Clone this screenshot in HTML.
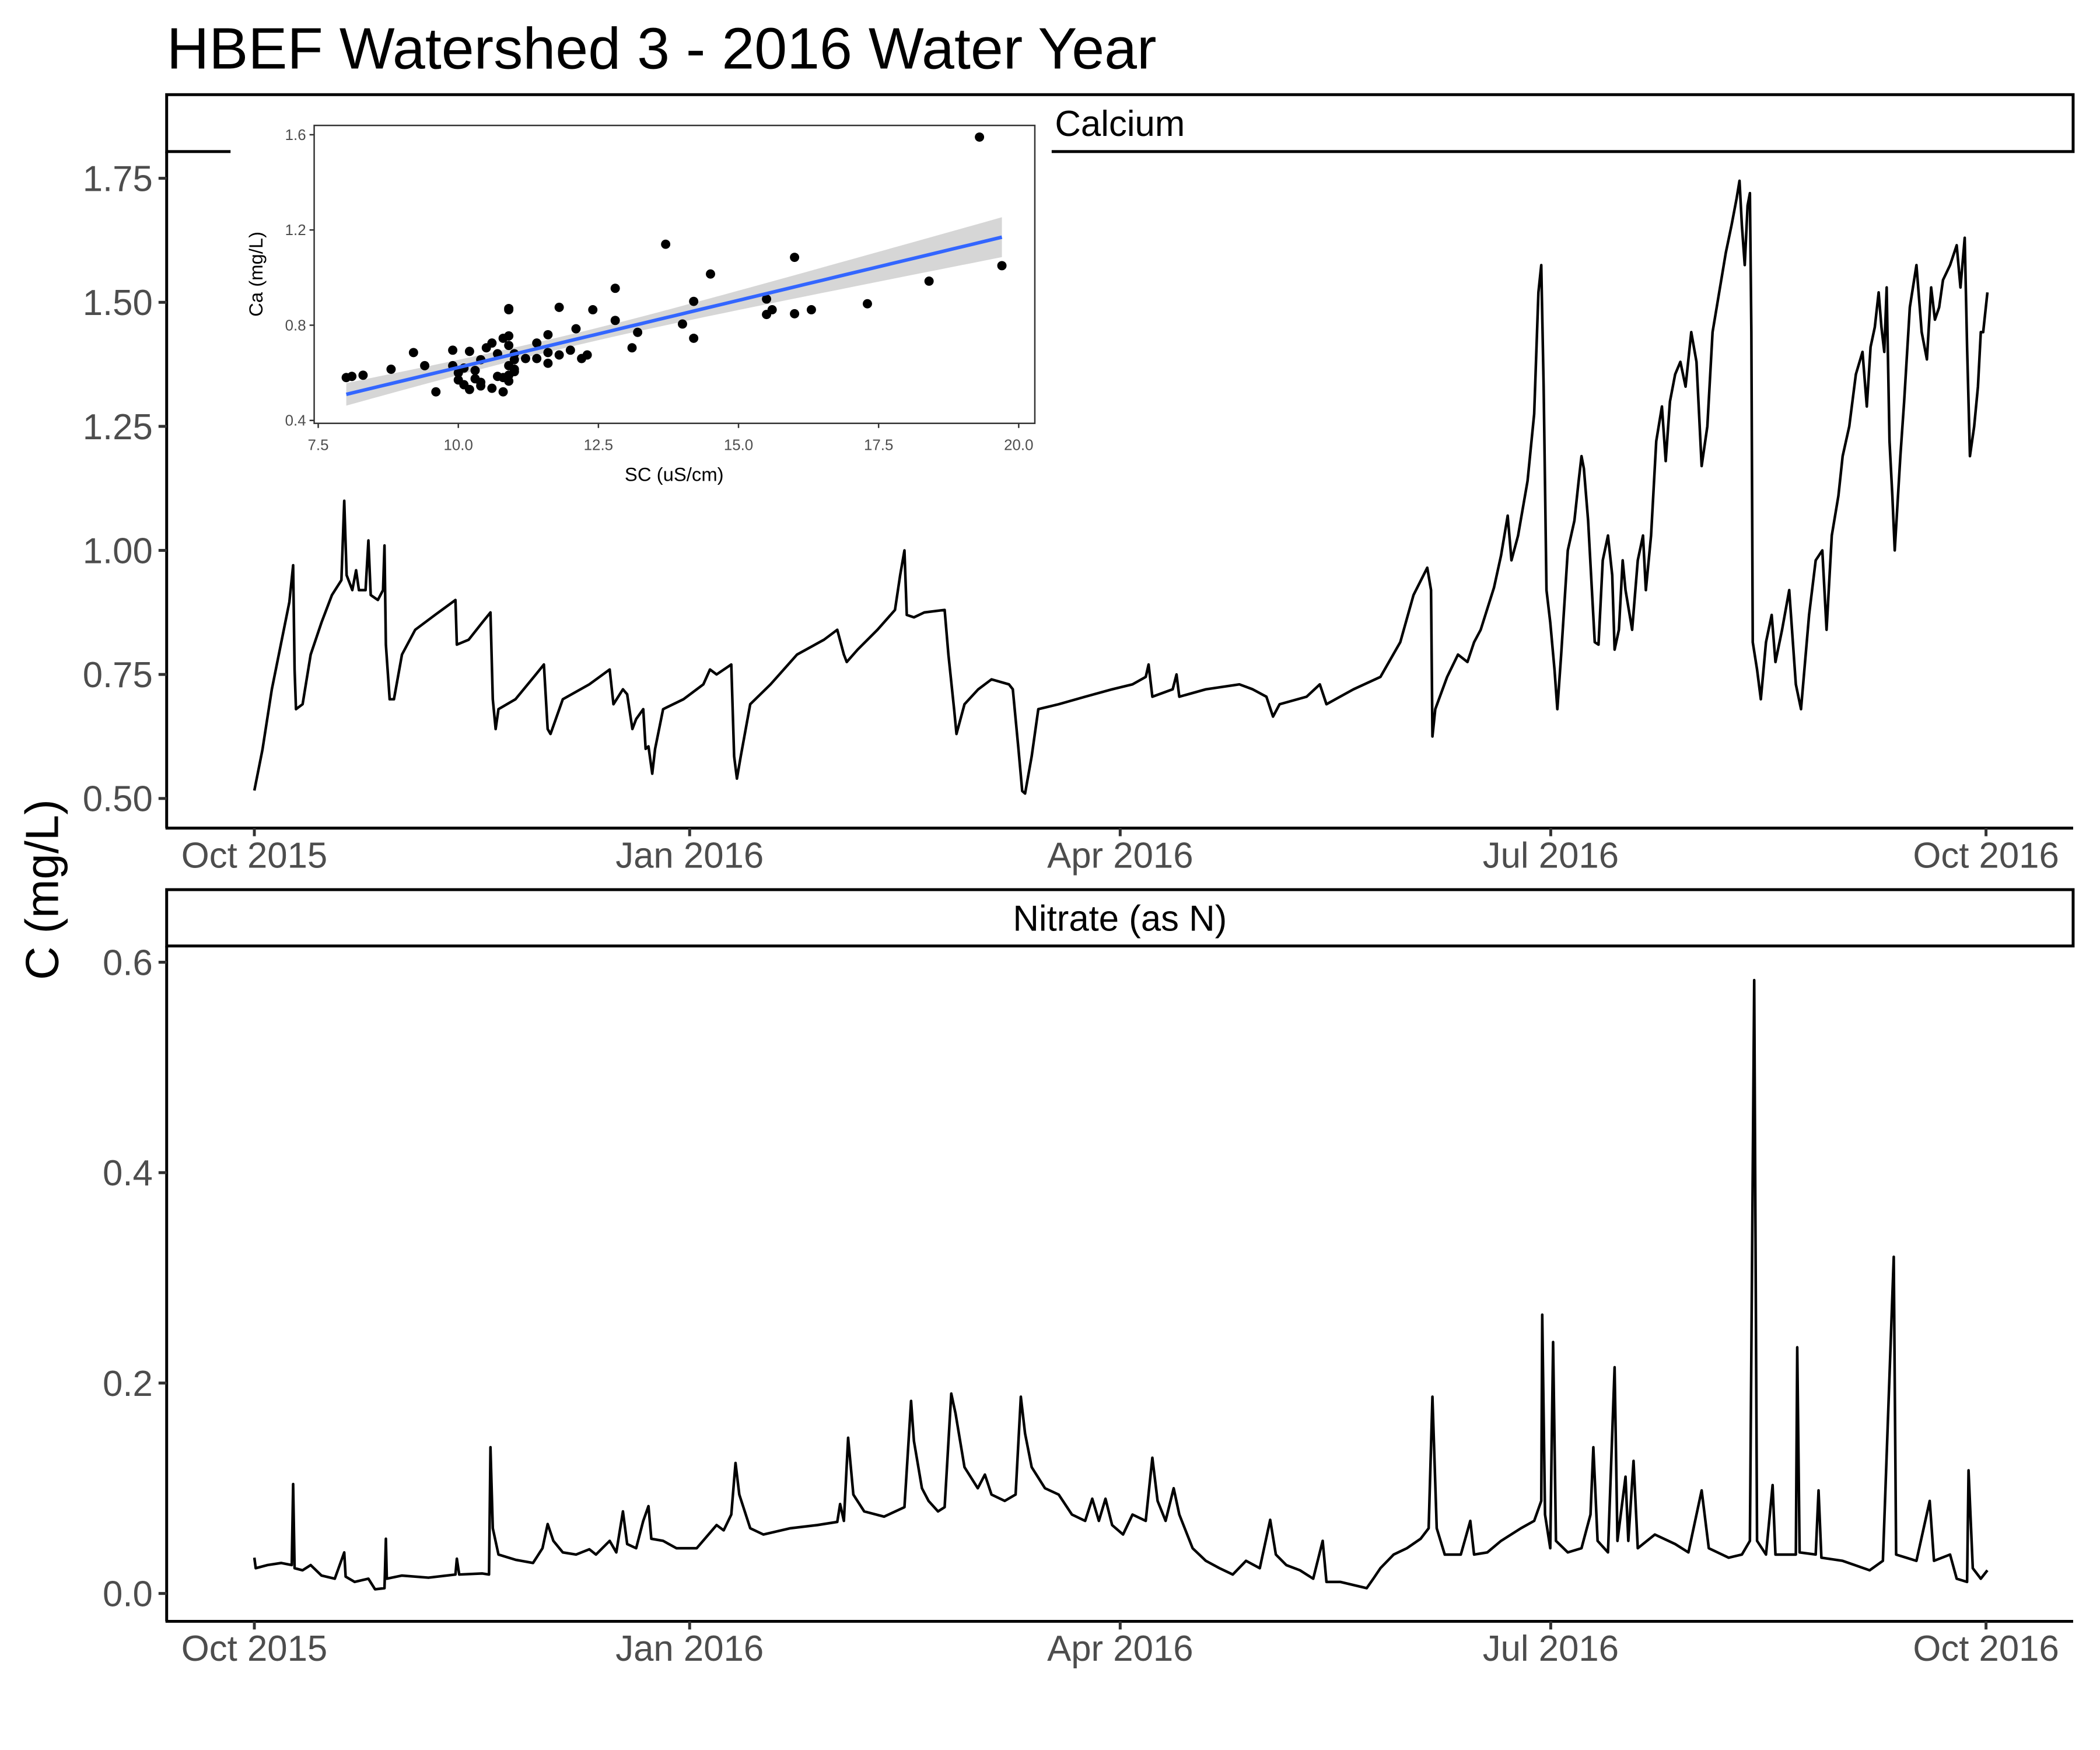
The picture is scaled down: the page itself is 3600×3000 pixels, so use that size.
<!DOCTYPE html>
<html><head><meta charset="utf-8"><style>
html,body{margin:0;padding:0;background:#fff}
svg{display:block;font-family:"Liberation Sans",Arial,sans-serif}
</style></head><body>
<svg id="chart" width="3600" height="3000" viewBox="0 0 3600 3000" xmlns="http://www.w3.org/2000/svg">
<rect x="0" y="0" width="3600" height="3000" fill="#fff"/>
<g transform="scale(0.9955)">
<text x="287" y="118" font-size="101" fill="#000">HBEF Watershed 3 - 2016 Water Year</text>
<text transform="translate(100,1532) rotate(-90)" text-anchor="middle" font-size="80" fill="#000">C (mg/L)</text>
<g id="p1"></g>
<g id="p2"></g>
<g id="inset"></g>
</g>
</svg>
<script>
// ---- data (day offset from 2015-10-01) ----
const xTickLabels = ["Oct 2015","Jan 2016","Apr 2016","Jul 2016","Oct 2016"];
const xTickDays = [0, 92, 183, 274, 366];
const caTicks = [0.50, 0.75, 1.00, 1.25, 1.50, 1.75];
const caTickLabels = ["0.50","0.75","1.00","1.25","1.50","1.75"];
const nTicks = [0.0, 0.2, 0.4, 0.6];
const nTickLabels = ["0.0","0.2","0.4","0.6"];
const caDays = [0,1.7,3.7,5.7,7.4,8.2,8.5,8.8,10.2,11.9,14.2,16.4,18.4,19.0,19.5,20.7,21.5,22.1,23.5,24.1,24.6,26.1,27.2,27.5,27.8,28.6,29.5,31.2,34.0,38.2,42.5,42.8,45.3,48.2,49.9,50.4,51.0,51.6,55.2,59.5,61.2,62.0,62.6,65.2,70.8,75.1,75.9,77.9,78.8,79.9,80.7,82.2,82.7,83.3,84.1,84.7,86.4,90.7,94.9,96.3,97.7,100.8,101.4,102.0,102.8,104.8,109.1,114.7,120.4,123.2,124.6,125.2,127.5,131.7,135.4,136.5,137.4,137.9,139.4,141.6,145.9,146.7,147.9,148.4,150.1,153.0,155.8,159.5,160.3,161.5,162.3,162.9,164.3,165.7,170.0,175.6,181.3,185.6,188.4,189.0,189.8,194.1,194.9,195.5,201.1,208.2,211.0,213.9,215.3,216.7,222.4,225.2,226.6,232.3,238.0,242.2,245.0,247.9,248.7,249.0,249.6,252.1,254.4,256.4,257.8,259.2,262.0,263.5,264.9,265.7,267.1,269.1,270.5,271.4,272.0,272.5,273.1,273.9,274.8,275.4,276.2,277.6,279.0,279.9,280.5,281.0,281.9,282.7,283.3,284.1,285.0,286.1,287.0,287.5,288.4,289.2,289.8,291.2,292.4,293.5,294.1,295.2,296.3,297.5,298.3,299.2,300.3,301.4,302.5,303.7,304.8,305.9,307.1,308.2,309.6,311.0,312.2,313.3,313.9,314.4,315.0,315.6,316.1,316.4,316.7,317.6,318.4,319.5,320.7,321.5,322.9,324.4,325.8,326.9,328.6,330.0,331.4,332.3,333.4,334.8,335.7,337.1,338.5,339.9,340.8,341.6,342.5,343.3,343.9,344.5,345.0,345.6,346.2,346.7,347.9,348.7,349.9,351.3,352.4,353.5,354.4,355.2,356.1,356.9,358.4,359.8,360.6,361.5,362.0,362.6,363.5,364.3,364.9,365.4,366.3];
const caValues = [0.516,0.598,0.72,0.815,0.896,0.97,0.76,0.68,0.69,0.79,0.855,0.91,0.94,1.10,0.95,0.92,0.96,0.92,0.92,1.02,0.91,0.90,0.92,1.01,0.81,0.70,0.70,0.79,0.84,0.87,0.90,0.81,0.82,0.855,0.875,0.70,0.64,0.68,0.70,0.75,0.77,0.64,0.63,0.70,0.73,0.76,0.69,0.72,0.71,0.64,0.66,0.68,0.60,0.605,0.55,0.60,0.68,0.70,0.73,0.76,0.75,0.77,0.585,0.54,0.585,0.69,0.73,0.79,0.82,0.84,0.79,0.775,0.80,0.84,0.88,0.95,1.00,0.87,0.865,0.875,0.88,0.79,0.68,0.63,0.69,0.72,0.74,0.73,0.72,0.60,0.515,0.51,0.585,0.68,0.69,0.705,0.72,0.73,0.745,0.77,0.705,0.72,0.75,0.705,0.72,0.73,0.72,0.705,0.665,0.69,0.705,0.73,0.69,0.72,0.745,0.815,0.91,0.965,0.92,0.625,0.68,0.745,0.79,0.775,0.815,0.84,0.925,0.99,1.07,0.98,1.03,1.14,1.275,1.52,1.575,1.33,0.92,0.855,0.76,0.68,0.79,1.00,1.06,1.14,1.19,1.165,1.06,0.92,0.815,0.81,0.98,1.03,0.95,0.80,0.84,0.98,0.92,0.84,0.98,1.03,0.92,1.03,1.22,1.29,1.18,1.30,1.355,1.38,1.33,1.44,1.38,1.17,1.25,1.44,1.52,1.60,1.655,1.71,1.745,1.655,1.575,1.695,1.72,1.44,0.815,0.76,0.70,0.815,0.87,0.775,0.84,0.92,0.73,0.68,0.87,0.98,1.00,0.84,1.03,1.11,1.19,1.25,1.355,1.40,1.29,1.41,1.45,1.52,1.45,1.40,1.53,1.22,1.11,1.00,1.19,1.30,1.49,1.575,1.44,1.385,1.53,1.465,1.49,1.545,1.575,1.615,1.53,1.63,1.41,1.19,1.25,1.33,1.44,1.44,1.52];
const nDays = [0,0.3,2.8,5.7,7.9,8.2,8.5,10.2,11.9,14.2,17.0,19.0,19.3,21.2,24.1,25.5,27.5,27.8,28.0,31.2,36.8,42.5,42.8,43.3,48.2,49.6,49.9,50.4,51.6,55.2,58.9,60.9,62.0,63.2,65.2,68.0,70.8,72.2,75.1,76.5,77.9,78.8,80.7,82.2,83.3,83.9,86.4,89.2,93.5,97.7,99.2,100.8,101.7,102.5,104.8,107.6,113.3,119.0,123.2,123.8,124.6,125.5,126.6,128.9,133.1,137.4,138.8,139.4,141.1,142.5,144.5,145.9,147.3,148.2,150.1,152.9,154.4,155.8,158.6,160.9,162.0,162.9,164.3,167.1,170.0,172.8,175.6,177.1,178.5,179.9,181.3,183.6,185.6,188.4,189.8,190.9,192.6,194.3,195.5,198.3,201.1,204.0,206.8,209.6,212.5,214.7,215.9,218.1,221.0,223.8,225.8,226.6,229.5,232.3,235.1,236.5,238.0,240.8,243.6,246.5,248.2,249.0,249.9,251.6,255.0,257.0,257.8,260.6,263.5,267.7,270.5,272.0,272.2,272.8,273.9,274.5,275.1,277.6,280.5,282.4,283.0,283.9,286.1,287.5,288.1,289.8,290.4,291.5,292.4,296.0,300.3,303.1,305.9,307.4,311.6,314.4,316.1,317.0,317.6,319.5,320.9,321.5,325.8,326.1,326.6,330.0,330.6,331.2,335.7,341.4,344.2,346.5,347.0,351.3,354.1,355.0,358.4,359.8,362.0,362.3,363.2,364.9,366.3];
const nValues = [0.034,0.024,0.027,0.029,0.027,0.104,0.024,0.022,0.027,0.017,0.014,0.039,0.016,0.011,0.014,0.004,0.005,0.052,0.014,0.017,0.015,0.018,0.033,0.018,0.019,0.018,0.139,0.062,0.037,0.032,0.029,0.043,0.066,0.05,0.039,0.037,0.042,0.037,0.05,0.039,0.078,0.047,0.043,0.069,0.083,0.052,0.05,0.043,0.043,0.065,0.06,0.075,0.124,0.094,0.062,0.056,0.062,0.065,0.068,0.085,0.069,0.148,0.094,0.078,0.073,0.082,0.183,0.145,0.10,0.088,0.078,0.082,0.19,0.171,0.12,0.10,0.113,0.094,0.088,0.094,0.187,0.152,0.12,0.10,0.094,0.075,0.069,0.09,0.069,0.09,0.065,0.056,0.075,0.069,0.129,0.088,0.069,0.10,0.075,0.043,0.031,0.024,0.018,0.031,0.024,0.07,0.037,0.027,0.022,0.014,0.05,0.011,0.011,0.008,0.005,0.014,0.024,0.037,0.043,0.052,0.062,0.187,0.062,0.037,0.037,0.069,0.037,0.039,0.05,0.062,0.069,0.088,0.265,0.075,0.043,0.239,0.05,0.039,0.043,0.075,0.139,0.05,0.039,0.215,0.05,0.111,0.05,0.126,0.043,0.056,0.047,0.039,0.098,0.043,0.034,0.037,0.05,0.583,0.05,0.037,0.103,0.037,0.037,0.234,0.039,0.037,0.098,0.034,0.031,0.022,0.031,0.32,0.037,0.031,0.088,0.031,0.037,0.014,0.011,0.117,0.024,0.014,0.022];
// inset scatter: SC (uS/cm) vs Ca (mg/L)
const scValues = [19.3,13.7,16.0,19.7,14.5,18.4,12.8,14.2,15.5,17.3,10.9,10.9,11.8,12.4,15.6,16.3,15.5,16.0,12.8,14.0,12.1,13.2,11.6,10.9,14.2,10.8,10.6,11.4,10.9,13.1,10.5,9.9,10.2,9.2,12.0,10.7,11.6,11.8,12.3,11.0,12.2,11.2,11.4,10.4,11.0,11.6,9.4,9.9,10.9,11.0,8.8,10.1,10.3,10.0,11.0,8.3,8.1,8.0,10.7,10.9,10.0,10.3,10.8,10.9,10.4,10.1,10.4,10.6,10.2,9.6,10.8];
const caScatter = [1.59,1.14,1.085,1.05,1.015,0.985,0.955,0.90,0.91,0.89,0.87,0.865,0.875,0.865,0.865,0.865,0.845,0.848,0.82,0.805,0.785,0.77,0.76,0.755,0.745,0.745,0.725,0.725,0.715,0.705,0.705,0.695,0.69,0.685,0.695,0.68,0.685,0.675,0.675,0.68,0.66,0.66,0.66,0.655,0.655,0.64,0.63,0.63,0.63,0.615,0.615,0.62,0.61,0.60,0.605,0.59,0.585,0.58,0.585,0.59,0.57,0.575,0.58,0.565,0.56,0.55,0.545,0.535,0.53,0.52,0.52];
const scTicks = [7.5,10.0,12.5,15.0,17.5,20.0];
const scTickLabels = ["7.5","10.0","12.5","15.0","17.5","20.0"];
const caInsetTicks = [0.4,0.8,1.2,1.6];
const caInsetTickLabels = ["0.4","0.8","1.2","1.6"];

const NS = "http://www.w3.org/2000/svg";
function mk(parent, tag, attrs, text){
  const e = document.createElementNS(NS, tag);
  for (const k in attrs) e.setAttribute(k, attrs[k]);
  if (text !== undefined) e.textContent = text;
  parent.appendChild(e);
  return e;
}
const X0 = 287, X1 = 3570;
const xs = d => 438 + d * (2982 / 366);

function panel(g, stripTop, stripBot, plotBot, yScale, ticks, tickLabels, days, vals, stripLabel, key){
  const sr = mk(g, 'rect', {x:X0, y:stripTop, width:X1-X0, height:stripBot-stripTop, fill:'#fff', stroke:'#000', 'stroke-width':5});
  
  
  const st = mk(g, 'text', {x:(X0+X1)/2, y:(stripTop+stripBot)/2 + 22, 'text-anchor':'middle', 'font-size':62, fill:'#000'}, stripLabel);
  
  
  let d = '';
  for (let i = 0; i < days.length; i++) d += (i ? 'L' : 'M') + xs(days[i]).toFixed(1) + ' ' + yScale(vals[i]).toFixed(1);
  const p = mk(g, 'path', {d:d, fill:'none', stroke:'#000', 'stroke-width':4.5, 'stroke-linejoin':'round'});
  
  
  const ya = mk(g, 'line', {x1:X0, y1:stripBot, x2:X0, y2:plotBot, stroke:'#000', 'stroke-width':5});
  
  
  const xa = mk(g, 'line', {x1:X0-2, y1:plotBot, x2:X1, y2:plotBot, stroke:'#000', 'stroke-width':5});
  
  
  ticks.forEach((t, i) => {
    const y = yScale(t);
    const tk = mk(g, 'line', {x1:X0-14, y1:y, x2:X0, y2:y, stroke:'#333', 'stroke-width':5});
    
    
    const tl = mk(g, 'text', {x:X0-24, y:y+22, 'text-anchor':'end', 'font-size':62, fill:'#4d4d4d'}, tickLabels[i]);
    
    
  });
  xTickDays.forEach((t, i) => {
    const x = xs(t);
    const tk = mk(g, 'line', {x1:x, y1:plotBot, x2:x, y2:plotBot+14, stroke:'#333', 'stroke-width':5});
    
    
    const tl = mk(g, 'text', {x:x, y:plotBot+68, 'text-anchor':'middle', 'font-size':62, fill:'#4d4d4d'}, xTickLabels[i]);
    
    
  });
}
const caY = v => 1375 - (v - 0.5) * 854.4;
const nY = v => 2744 - v * 1811.7;
panel(document.getElementById('p1'), 163, 261, 1426, caY, caTicks, caTickLabels, caDays, caValues, 'Calcium', 'calcium');
panel(document.getElementById('p2'), 1532, 1629, 2792, nY, nTicks, nTickLabels, nDays, nValues, 'Nitrate (as N)', 'nitrate');

// ---- inset ----
const ig = document.getElementById('inset');
const bg = mk(ig, 'rect', {x:397, y:168, width:1414, height:692, fill:'#fff'});


const ix = v => 548 + (v - 7.5) * 96.5;
const iy = v => 724 - (v - 0.4) * 410;
const n = scValues.length;
const mx = scValues.reduce((a,b)=>a+b,0)/n, my = caScatter.reduce((a,b)=>a+b,0)/n;
let sxx = 0, sxy = 0;
for (let i=0;i<n;i++){ sxx += (scValues[i]-mx)**2; sxy += (scValues[i]-mx)*(caScatter[i]-my); }
const b1 = sxy/sxx, b0 = my - b1*mx;
let sse = 0;
for (let i=0;i<n;i++) sse += (caScatter[i]-b0-b1*scValues[i])**2;
const s = Math.sqrt(sse/(n-2));
const xmin = Math.min(...scValues), xmax = Math.max(...scValues);
let up = [], lo = [], ln = '';
for (let k=0;k<=40;k++){
  const x = xmin + (xmax-xmin)*k/40;
  const yh = b0 + b1*x;
  const hw = 1.994 * s * Math.sqrt(1/n + (x-mx)**2/sxx);
  up.push(ix(x).toFixed(1)+','+iy(yh+hw).toFixed(1));
  lo.unshift(ix(x).toFixed(1)+','+iy(yh-hw).toFixed(1));
  ln += (k?'L':'M') + ix(x).toFixed(1) + ' ' + iy(yh).toFixed(1);
}
const rib = mk(ig, 'polygon', {points: up.concat(lo).join(' '), fill:'#999', 'fill-opacity':0.4});


for (let i=0;i<n;i++){
  const c = mk(ig, 'circle', {cx:ix(scValues[i]), cy:iy(caScatter[i]), r:8, fill:'#000'});
  
  
}
const fl = mk(ig, 'path', {d:ln, fill:'none', stroke:'#3366FF', 'stroke-width':6});


const ib = mk(ig, 'rect', {x:541, y:216, width:1241, height:513, fill:'none', stroke:'#333', 'stroke-width':2.5});


caInsetTicks.forEach((t,i)=>{
  const y = iy(t);
  const tk = mk(ig, 'line', {x1:533, y1:y, x2:541, y2:y, stroke:'#333', 'stroke-width':2.5});
  
  
  const tl = mk(ig, 'text', {x:527, y:y+9, 'text-anchor':'end', 'font-size':26, fill:'#4d4d4d'}, caInsetTickLabels[i]);
  
  
});
scTicks.forEach((t,i)=>{
  const x = ix(t);
  const tk = mk(ig, 'line', {x1:x, y1:729, x2:x, y2:737, stroke:'#333', 'stroke-width':2.5});
  
  
  const tl = mk(ig, 'text', {x:x, y:775, 'text-anchor':'middle', 'font-size':26, fill:'#4d4d4d'}, scTickLabels[i]);
  
  
});
const xt = mk(ig, 'text', {x:1161, y:828, 'text-anchor':'middle', 'font-size':33, fill:'#000'}, 'SC (uS/cm)');


const yt = mk(ig, 'text', {transform:'translate(452,472) rotate(-90)', 'text-anchor':'middle', 'font-size':33, fill:'#000'}, 'Ca (mg/L)');


</script>
</body></html>
